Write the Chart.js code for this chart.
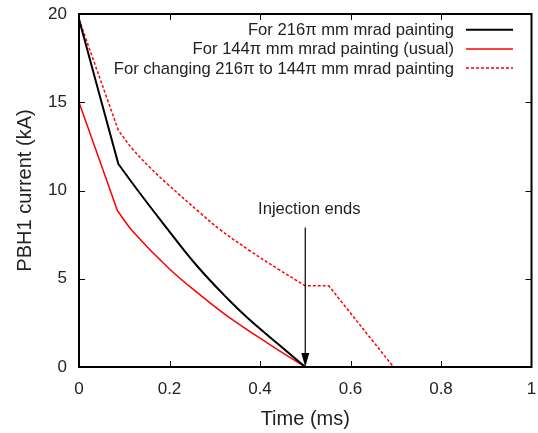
<!DOCTYPE html>
<html>
<head>
<meta charset="utf-8">
<script src="https://cdn.jsdelivr.net/npm/chart.js@4/dist/chart.umd.min.js"></script>
<style>
  html, body { margin: 0; padding: 0; background: #fff; }
  canvas { display: block; }
</style>
</head>
<body>
<canvas id="pbhChart" width="538" height="433"></canvas>
<script>
// values (time in ms, current in kA)
// a repeated point marks a sharp corner (the curves are drawn with spline tension)
const time216 = [0, 0.087, 0.087, 0.13, 0.19, 0.26, 0.333, 0.374, 0.44, 0.5];
const current216 = [19.7, 11.5, 11.5, 10.0, 8.0, 5.75, 3.75, 2.75, 1.3, 0];

const time144 = [0, 0.085, 0.085, 0.12, 0.2, 0.267, 0.335, 0.42, 0.5];
const current144 = [15, 8.85, 8.85, 7.65, 5.55, 4.1, 2.75, 1.3, 0];

const timeChange = [0, 0.087, 0.087, 0.12, 0.157, 0.194, 0.267, 0.311, 0.377, 0.44, 0.5, 0.5, 0.552, 0.552, 0.695];
const currentChange = [19.7, 13.4, 13.4, 12.3, 11.3, 10.4, 8.75, 7.8, 6.6, 5.55, 4.6, 4.6, 4.6, 4.6, 0];

const seriesLabels = [
  'For 216\u03c0 mm mrad painting',
  'For 144\u03c0 mm mrad painting (usual)',
  'For changing 216\u03c0 to 144\u03c0 mm mrad painting'
];

const xTicks = [0, 0.2, 0.4, 0.6, 0.8, 1];
const yTicks = [0, 5, 10, 15, 20];

// arrow "Injection ends": at t = 0.5, from 7.9 kA down to 0
const arrowTime = 0.5;
const arrowFrom = 7.9;
const arrowTo = 0;
const arrowText = 'Injection ends';

const FONT = '"Liberation Sans", Arial, Helvetica, sans-serif';

const toPoints = (xs, ys) => xs.map((x, i) => ({ x: x, y: ys[i] }));

// gnuplot-like frame with inward ticks on all four sides
const framePlugin = {
  id: 'frame',
  afterDraw(chart) {
    const { ctx, chartArea: a, scales } = chart;
    ctx.save();
    ctx.strokeStyle = '#000';
    ctx.lineWidth = 1;
    ctx.beginPath();
    xTicks.slice(1, -1).forEach((v) => {
      const x = Math.round(scales.x.getPixelForValue(v)) + 0.5;
      ctx.moveTo(x, a.bottom); ctx.lineTo(x, a.bottom - 6);
      ctx.moveTo(x, a.top); ctx.lineTo(x, a.top + 6);
    });
    yTicks.slice(1, -1).forEach((v) => {
      const y = Math.round(scales.y.getPixelForValue(v)) + 0.5;
      ctx.moveTo(a.left, y); ctx.lineTo(a.left + 6, y);
      ctx.moveTo(a.right, y); ctx.lineTo(a.right - 6, y);
    });
    ctx.stroke();
    ctx.lineWidth = 2;
    ctx.strokeRect(a.left, a.top, a.right - a.left, a.bottom - a.top);
    ctx.restore();
  }
};

// arrow with label
const arrowPlugin = {
  id: 'arrow',
  afterDatasetsDraw(chart) {
    const { ctx, scales } = chart;
    const x = scales.x.getPixelForValue(arrowTime);
    const y0 = scales.y.getPixelForValue(arrowFrom);
    const y1 = scales.y.getPixelForValue(arrowTo);
    ctx.save();
    ctx.strokeStyle = '#000';
    ctx.fillStyle = '#000';
    ctx.lineWidth = 1.2;
    ctx.beginPath();
    ctx.moveTo(x, y0); ctx.lineTo(x, y1 - 10);
    ctx.stroke();
    ctx.beginPath();
    ctx.moveTo(x, y1);
    ctx.lineTo(x - 4, y1 - 14);
    ctx.lineTo(x + 4, y1 - 14);
    ctx.closePath();
    ctx.fill();
    ctx.font = '16.6px ' + FONT;
    ctx.textAlign = 'center';
    ctx.textBaseline = 'middle';
    ctx.fillStyle = '#222';
    ctx.fillText(arrowText, x + 4, y0 - 18);
    ctx.restore();
  }
};

// key in top-right corner: text right-aligned, sample line to its right
const keyPlugin = {
  id: 'key',
  afterDraw(chart) {
    const { ctx } = chart;
    const opts = chart.options.plugins.key;
    ctx.save();
    ctx.font = '16.6px ' + FONT;
    ctx.textAlign = 'right';
    ctx.textBaseline = 'middle';
    chart.data.datasets.forEach((ds, i) => {
      const y = opts.top + i * opts.rowHeight;
      ctx.fillStyle = '#222';
      ctx.fillText(ds.label, opts.textRight, y + 1);
      ctx.strokeStyle = ds.borderColor;
      ctx.lineWidth = ds.borderWidth;
      ctx.setLineDash(ds.borderDash || []);
      ctx.beginPath();
      ctx.moveTo(opts.lineStart, y);
      ctx.lineTo(opts.lineEnd, y);
      ctx.stroke();
    });
    ctx.restore();
  }
};

const tickFont = { family: FONT, size: 17 };
const titleFont = { family: FONT, size: 20 };

new Chart(document.getElementById('pbhChart'), {
  type: 'scatter',
  data: {
    datasets: [
      {
        label: seriesLabels[0],
        data: toPoints(time216, current216),
        borderColor: '#000',
        borderWidth: 2
      },
      {
        label: seriesLabels[1],
        data: toPoints(time144, current144),
        borderColor: '#ff0000',
        borderWidth: 1.5
      },
      {
        label: seriesLabels[2],
        data: toPoints(timeChange, currentChange),
        borderColor: '#ff0000',
        borderWidth: 1.5,
        borderDash: [3, 2]
      }
    ].map((d) => Object.assign(d, { showLine: true, pointRadius: 0, tension: 0.4, fill: false }))
  },
  options: {
    responsive: false,
    animation: false,
    layout: { padding: { top: 14, right: 6.5, left: 0, bottom: 0 } },
    plugins: {
      legend: { display: false },
      tooltip: { enabled: false },
      key: { top: 29.7, rowHeight: 19.2, textRight: 454, lineStart: 466, lineEnd: 513 }
    },
    scales: {
      x: {
        type: 'linear',
        min: 0,
        max: 1,
        afterBuildTicks: (s) => { s.ticks = xTicks.map((v) => ({ value: v })); },
        afterFit: (s) => { s.height = 66; s.paddingLeft = 0; s.paddingRight = 0; },
        grid: { display: false, drawTicks: false },
        border: { display: false },
        ticks: { font: tickFont, color: '#222', padding: 12, maxRotation: 0, callback: (v) => String(v) },
        title: { display: true, text: 'Time (ms)', font: titleFont, color: '#222', padding: { top: 0, bottom: 2 } }
      },
      y: {
        type: 'linear',
        min: 0,
        max: 20,
        afterBuildTicks: (s) => { s.ticks = yTicks.map((v) => ({ value: v })); },
        afterFit: (s) => { s.width = 79; s.paddingTop = 0; s.paddingBottom = 0; },
        grid: { display: false, drawTicks: false },
        border: { display: false },
        ticks: { font: tickFont, color: '#222', padding: 12, callback: (v) => String(v) },
        title: { display: true, text: 'PBH1 current (kA)', font: titleFont, color: '#222', padding: { top: 13, bottom: 0 } }
      }
    }
  },
  plugins: [framePlugin, arrowPlugin, keyPlugin]
});
</script>
</body>
</html>
